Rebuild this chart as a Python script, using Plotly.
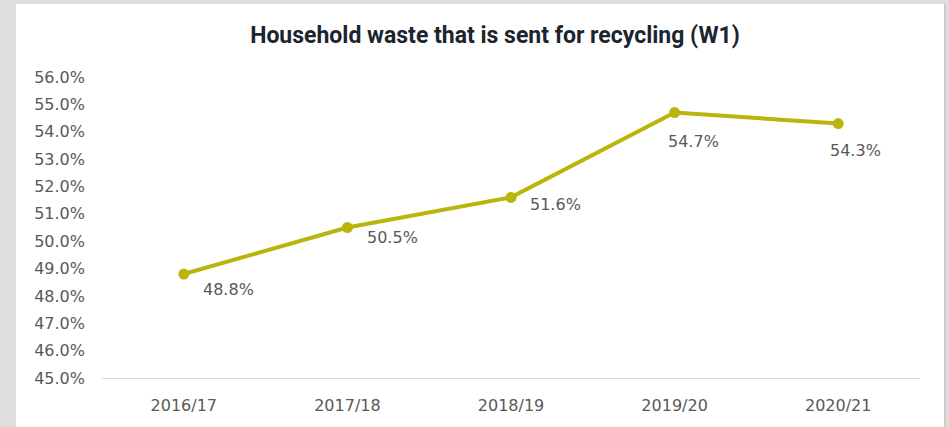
import plotly.graph_objects as go

categories = ["2016/17", "2017/18", "2018/19", "2019/20", "2020/21"]
recycling_pct = [48.8, 50.5, 51.6, 54.7, 54.3]
y_ticks = [45, 46, 47, 48, 49, 50, 51, 52, 53, 54, 55, 56]

# label offsets (pixels, centre of label relative to the point)
label_dx = [45, 45, 44, 19, 17]
label_dy = [15, 10, 7, 29, 27]

W, H = 949, 427
ML, MR, MT, MB = 102, 29, 77, 49
PW, PH = W - ML - MR, H - MT - MB

LINE_COL = "#b8b50c"
TXT_COL = "#595959"
FONT = "DejaVu Sans"

fig = go.Figure()
fig.add_trace(go.Scatter(
    x=categories, y=recycling_pct, mode="lines+markers",
    line=dict(color=LINE_COL, width=4),
    marker=dict(color=LINE_COL, size=11),
    hoverinfo="skip", showlegend=False,
))

for c, v, dx, dy in zip(categories, recycling_pct, label_dx, label_dy):
    fig.add_annotation(x=c, y=v, text=f"{v:.1f}%", showarrow=False,
                       xshift=dx, yshift=-dy,
                       font=dict(family=FONT, size=16, color=TXT_COL))

def px_x(p):
    return (p - ML) / PW

def px_y(p):
    return (H - MB - p) / PH

# white panel and its border
fig.add_shape(type="rect", xref="paper", yref="paper",
              x0=px_x(16), x1=px_x(944), y0=px_y(430), y1=px_y(4),
              fillcolor="white", line=dict(width=0), layer="below")
fig.add_shape(type="line", xref="paper", yref="paper",
              x0=px_x(945), x1=px_x(945), y0=px_y(430), y1=px_y(4),
              line=dict(color="#c4c4c4", width=1.5), layer="below")

fig.update_layout(
    width=W, height=H,
    margin=dict(l=ML, r=MR, t=MT, b=MB),
    paper_bgcolor="#dedede",
    plot_bgcolor="rgba(0,0,0,0)",
    title=dict(text="<b>Household waste that is sent for recycling (W1)</b>",
               x=495 / W, xref="container", xanchor="center",
               y=1 - 35 / H, yref="container", yanchor="middle",
               font=dict(family="Roboto", size=23, color="#1a2530")),
    xaxis=dict(range=[-0.5, 4.5], showgrid=False, zeroline=False,
               showline=True, linecolor="#d9d9d9", linewidth=1,
               ticks="", ticklabelstandoff=13,
               tickfont=dict(family=FONT, size=16, color=TXT_COL)),
    yaxis=dict(range=[45, 56], tickvals=y_ticks,
               ticktext=[f"{t:.1f}%" for t in y_ticks],
               showgrid=False, zeroline=False, showline=False,
               ticks="", ticklabelstandoff=16,
               tickfont=dict(family=FONT, size=16, color=TXT_COL)),
)

fig.write_html("out.html")
